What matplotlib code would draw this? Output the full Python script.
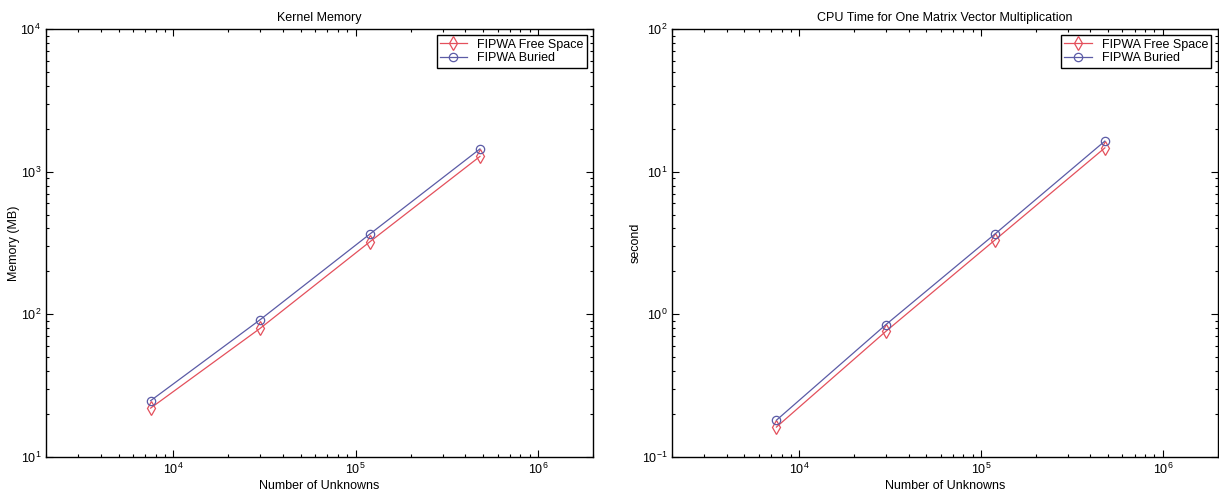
import matplotlib.pyplot as plt
from matplotlib.ticker import LogLocator, NullFormatter

plt.rcParams['font.family'] = ['Liberation Sans', 'DejaVu Sans']
plt.rcParams['font.size'] = 8

unknowns = [7500, 30000, 120000, 480000]
mem_free = [22, 80, 324, 1280]
mem_buried = [24.8, 92, 367, 1445]
cpu_free = [0.162, 0.76, 3.34, 14.7]
cpu_buried = [0.181, 0.847, 3.68, 16.4]

red = '#e4505c'
blue = '#5b5ba6'

fig = plt.figure(figsize=(12.19, 4.94), dpi=100)
ax1 = fig.add_axes([0.0377, 0.075, 0.4487, 0.866])
ax2 = fig.add_axes([0.5513, 0.075, 0.4475, 0.866])


def style(ax, ylim, ylabel, title, free, buried, ylab_x):
    ax.loglog(unknowns, free, color=red, lw=0.9, marker='d', ms=7,
              mfc='none', mec=red, mew=0.9, label='FIPWA Free Space')
    ax.loglog(unknowns, buried, color=blue, lw=0.9, marker='o', ms=6,
              mfc='none', mec=blue, mew=0.9, label='FIPWA Buried')
    ax.set_xlim(2000, 2e6)
    ax.set_ylim(*ylim)
    ax.set_xlabel('Number of Unknowns', fontsize=9, labelpad=2)
    ax.set_ylabel(ylabel, fontsize=9)
    ax.yaxis.set_label_coords(ylab_x, 0.5)
    ax.set_title(title, fontsize=9, pad=6)
    for axis in (ax.xaxis, ax.yaxis):
        axis.set_major_locator(LogLocator(base=10, numticks=10))
        axis.set_minor_locator(LogLocator(base=10, subs=range(2, 10), numticks=10))
        axis.set_minor_formatter(NullFormatter())
    ax.tick_params(which='both', direction='in', top=True, right=True, width=0.8)
    ax.tick_params(which='major', length=5, labelsize=9)
    ax.tick_params(which='minor', length=2.5)
    for s in ax.spines.values():
        s.set_linewidth(1.0)
    leg = ax.legend(loc='upper right', fontsize=9, fancybox=False,
                    framealpha=1, edgecolor='black', borderaxespad=0.5,
                    handlelength=2.2, borderpad=0.25, labelspacing=0.15)
    leg.get_frame().set_linewidth(1.0)


style(ax1, (10, 1e4), 'Memory (MB)', 'Kernel Memory', mem_free, mem_buried, -0.0475)
style(ax2, (0.1, 100), 'second', 'CPU Time for One Matrix Vector Multiplication',
      cpu_free, cpu_buried, -0.056)

fig.savefig('out.png', dpi=100)
